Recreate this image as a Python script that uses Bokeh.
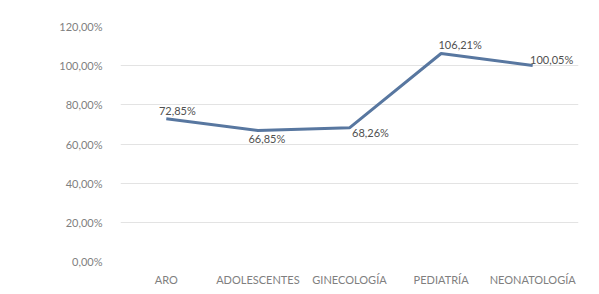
from bokeh.plotting import figure
from bokeh.models import ColumnDataSource, Label, CustomJSTickFormatter, FixedTicker
from bokeh.core.properties import value
from bokeh.embed import file_html
from bokeh.resources import INLINE

# ---- data ----
categories = ["ARO", "ADOLESCENTES", "GINECOLOGÍA", "PEDIATRÍA", "NEONATOLOGÍA"]
occupancy = [0.7285, 0.6685, 0.6826, 1.0621, 1.0005]
value_labels = ["72,85%", "66,85%", "68,26%", "106,21%", "100,05%"]
y_ticks = [0.0, 0.2, 0.4, 0.6, 0.8, 1.0, 1.2]
title_text = "GRÁFICO N°3 OCUPACIÓN DE CAMAS"

# label offsets (layout, screen px; y offset positive = down)
label_dx = [11, 9, 21, 19, 19]
label_dy = [-8, 8, 5, -9, -6]

W, H = 599, 294
p = figure(x_range=categories, y_range=(0, 1.2), width=W, height=H,
           output_backend="svg", toolbar_location=None,
           min_border_left=120, min_border_right=21, min_border_top=26, min_border_bottom=33)
p.styles = {"margin-top": "0px"}
p.outline_line_color = None
p.background_fill_color = "white"
p.border_fill_color = "white"

src = ColumnDataSource(dict(x=categories, y=occupancy, t=value_labels, dx=label_dx, dy=label_dy))
p.line("x", "y", source=src, line_color="#5877a0", line_width=3)
p.text("x", "y", text="t", x_offset="dx", y_offset="dy", source=src,
       text_align="center", text_baseline="middle",
       text_font=value("Lato"), text_font_size="11px", text_color="#505050")

p.yaxis.ticker = FixedTicker(ticks=y_ticks)
p.yaxis.formatter = CustomJSTickFormatter(code="return (tick*100).toFixed(2).replace('.', ',') + '%';")
for ax in (p.xaxis[0], p.yaxis[0]):
    ax.axis_line_color = None
    ax.major_tick_line_color = None
    ax.minor_tick_line_color = None
    ax.major_label_text_font = "Lato"
    ax.major_label_text_font_size = "11px"
    ax.major_label_text_color = "#7f7f7f"
p.yaxis.major_label_standoff = 12
p.xaxis.major_label_standoff = 5
p.xgrid.grid_line_color = None
p.ygrid.grid_line_color = "#e3e3e3"
p.ygrid.grid_line_width = 1

# title, cropped at the top edge as in the reference
# (screen units here are relative to the frame's bottom-left corner)
p.add_layout(Label(x=-115, y=257, x_units="screen", y_units="screen", text=title_text,
                   text_baseline="alphabetic", text_align="left",
                   text_font="Liberation Sans", text_font_style="bold",
                   text_font_size="25px", text_color="black"))

open("out.html", "w").write(file_html(p, INLINE))
